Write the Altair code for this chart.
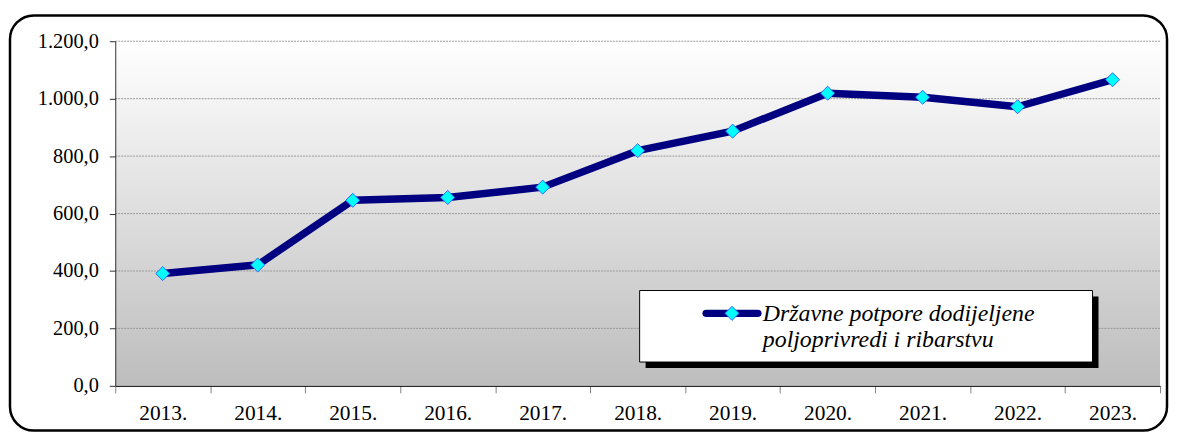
import altair as alt
import pandas as pd

years = ["2013.", "2014.", "2015.", "2016.", "2017.", "2018.", "2019.", "2020.", "2021.", "2022.", "2023."]
values = [391.0, 421.0, 646.0, 656.0, 692.0, 819.0, 887.0, 1019.0, 1005.0, 972.0, 1066.0]
y_ticks = [0, 200, 400, 600, 800, 1000, 1200]
legend_lines = ["Državne potpore dodijeljene", "poljoprivredi i ribarstvu"]

W, H = 1052, 347
FONT = "Liberation Serif, Times New Roman, serif"

df = pd.DataFrame({"year": years, "value": values})
grid_df = pd.DataFrame({"v": y_ticks})
one = pd.DataFrame({"a": [0]})

xs = alt.Scale(domain=years, paddingInner=0, paddingOuter=0)
ys = alt.Scale(domain=[0, 1200], nice=False, zero=True)

label_expr = ("replace(replace(replace(format(datum.value, ',.1f'), ',', '_'), '.', ','), '_', '.')")

y_axis = alt.Axis(title=None, values=y_ticks, labelExpr=label_expr, grid=False,
                  domainColor="#303030", tickColor="#303030", tickSize=6,
                  labelPadding=11, labelFont=FONT, labelFontSize=20.5,
                  labelColor="#000000", zindex=1)
x_axis = alt.Axis(title=None, labelAngle=0, tickBand="extent", domainColor="#000000",
                  tickColor="#808080", tickSize=7, labelPadding=10, labelFont=FONT,
                  labelFontSize=21.5, labelColor="#000000", zindex=1, grid=False)

border = alt.Chart(one).mark_rect(
    fill="white", stroke="black", strokeWidth=2.5, cornerRadius=24, clip=False
).encode(x=alt.value(-106), x2=alt.value(1059), y=alt.value(-26), y2=alt.value(392))

grad = alt.Gradient(
    gradient="linear",
    stops=[alt.GradientStop(color="#ffffff", offset=0),
           alt.GradientStop(color="#bdbdbd", offset=1)],
    x1=0, x2=0, y1=0, y2=1,
)
bg = alt.Chart(one).mark_rect(color=grad).encode(
    x=alt.value(0), x2=alt.value(W), y=alt.value(0), y2=alt.value(H)
)

grid = alt.Chart(grid_df).transform_filter("datum.v > 0").mark_rule(
    color="#9a9a9a", strokeWidth=1, strokeDash=[2, 1]
).encode(y=alt.Y("v:Q", scale=ys, axis=y_axis), x=alt.value(0), x2=alt.value(W))

base = alt.Chart(df).encode(
    x=alt.X("year:N", scale=xs, sort=years, axis=x_axis),
    y=alt.Y("value:Q", scale=ys, axis=y_axis),
)
line = base.mark_line(color="#000080", strokeWidth=7.5, strokeJoin="round")
pts = base.mark_point(shape="diamond", filled=True, fill="#00ffff", stroke="#3366ff",
                      strokeWidth=1, size=200, opacity=1)

shadow = alt.Chart(one).mark_rect(fill="black", clip=False).encode(
    x=alt.value(534), x2=alt.value(990), y=alt.value(257), y2=alt.value(329))
lbox = alt.Chart(one).mark_rect(fill="white", stroke="#000000", strokeWidth=1, clip=False).encode(
    x=alt.value(528), x2=alt.value(984), y=alt.value(251), y2=alt.value(323))
lline = alt.Chart(one).mark_rule(color="#000080", strokeWidth=7.5, strokeCap="round").encode(
    x=alt.value(595), x2=alt.value(647), y=alt.value(274))
lpt = alt.Chart(one).mark_point(shape="diamond", filled=True, fill="#00ffff", stroke="#3366ff",
                                strokeWidth=1, size=200, opacity=1).encode(
    x=alt.value(621), y=alt.value(274))
t1 = alt.Chart(one).mark_text(text=legend_lines[0], font=FONT, fontSize=24, fontStyle="italic",
                              align="left", baseline="alphabetic", color="black").encode(
    x=alt.value(652), y=alt.value(282))
t2 = alt.Chart(one).mark_text(text=legend_lines[1], font=FONT, fontSize=24, fontStyle="italic",
                              align="left", baseline="alphabetic", color="black").encode(
    x=alt.value(652), y=alt.value(308))

chart = alt.layer(border, bg, grid, line, pts, shadow, lbox, lline, lpt, t1, t2).properties(
    width=W, height=H,
    autosize=alt.AutoSizeParams(type="none"),
    padding={"left": 108, "top": 32, "right": 9, "bottom": 46},
).configure_view(stroke=None)

chart.save("out.html", embed_options={"renderer": "svg", "actions": False})
